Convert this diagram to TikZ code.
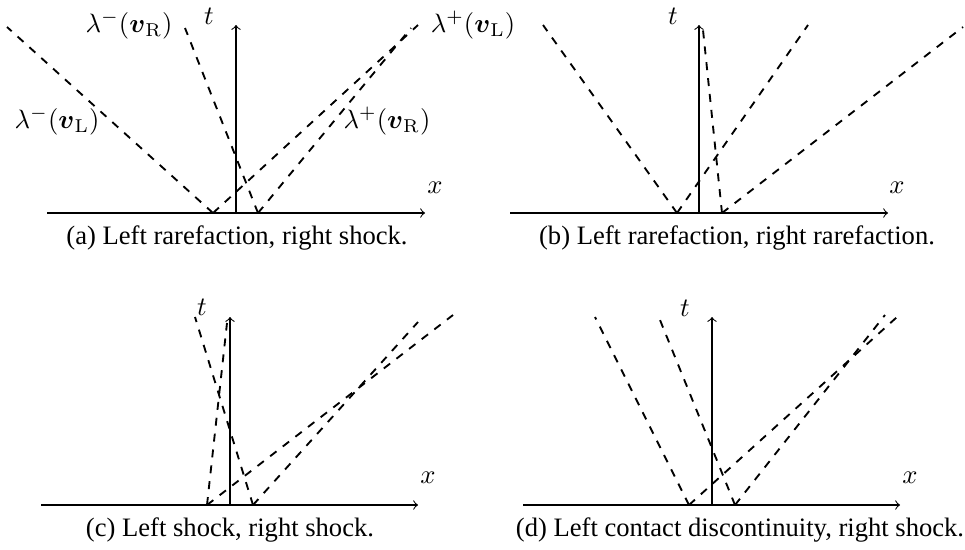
\documentclass[tikz,border=0pt]{standalone}
\usepackage{amsmath}
\usepackage[no-math]{fontspec}
\setmainfont{Liberation Serif}
\begin{document}
\begin{tikzpicture}[x=0.376pt,y=-0.376pt,
  axis/.style={->,line width=0.4pt},
  wave/.style={dashed,line width=0.7pt},
  lab/.style={inner sep=0pt},
  captext/.style={inner sep=0pt}]
\useasboundingbox (0,0) rectangle (965,549);
% ---------- (a) ----------
\coordinate (aXs) at (47,213);  \coordinate (aXe) at (425,213);
\coordinate (aTs) at (236,213); \coordinate (aTe) at (236,25);
\coordinate (aL) at (213,213);  \coordinate (aR) at (258,213);
\coordinate (a1) at (7,27);     \coordinate (a2) at (185,28);
\coordinate (a3) at (418,25);   \coordinate (a4) at (411,28);
\draw[axis] (aXs) -- (aXe);
\draw[axis] (aTs) -- (aTe);
\draw[wave] (aL) -- (a1);
\draw[wave] (aR) -- (a2);
\draw[wave] (aL) -- (a3);
\draw[wave] (aR) -- (a4);
\node[lab] (at) at (209,16) {$t$};
\node[lab] (ax) at (435,188) {$x$};
\node[lab] (amL) at (57,121) {$\lambda^{-}(\boldsymbol{v}_{\mathrm{L}})$};
\node[lab] (amR) at (129,25) {$\lambda^{-}(\boldsymbol{v}_{\mathrm{R}})$};
\node[lab] (apR) at (387,121) {$\lambda^{+}(\boldsymbol{v}_{\mathrm{R}})$};
\node[lab] (apL) at (473,25) {$\lambda^{+}(\boldsymbol{v}_{\mathrm{L}})$};
\node[captext] (acap) at (237,238) {(a) Left rarefaction, right shock.};
% ---------- (b) ----------
\coordinate (bXs) at (510,213); \coordinate (bXe) at (888,213);
\coordinate (bTs) at (699,213); \coordinate (bTe) at (699,25);
\coordinate (bL) at (677,213);  \coordinate (bR) at (722,213);
\coordinate (b1) at (543,25);   \coordinate (b2) at (808,25);
\coordinate (b3) at (703,30);   \coordinate (b4) at (963,27);
\draw[axis] (bXs) -- (bXe);
\draw[axis] (bTs) -- (bTe);
\draw[wave] (bL) -- (b1);
\draw[wave] (bL) -- (b2);
\draw[wave] (bR) -- (b3);
\draw[wave] (bR) -- (b4);
\node[lab] (bt) at (673,16) {$t$};
\node[lab] (bx) at (897,188) {$x$};
\node[captext] (bcap) at (737,238) {(b) Left rarefaction, right rarefaction.};
% ---------- (c) ----------
\coordinate (cXs) at (41,505);  \coordinate (cXe) at (418,505);
\coordinate (cTs) at (230,505); \coordinate (cTe) at (230,317);
\coordinate (cL) at (207,505);  \coordinate (cR) at (253,505);
\coordinate (c1) at (195,317);  \coordinate (c2) at (227,323);
\coordinate (c3) at (453,315);  \coordinate (c4) at (418,322);
\draw[axis] (cXs) -- (cXe);
\draw[axis] (cTs) -- (cTe);
\draw[wave] (cR) -- (c1);
\draw[wave] (cL) -- (c2);
\draw[wave] (cL) -- (c3);
\draw[wave] (cR) -- (c4);
\node[lab] (ct) at (202,307) {$t$};
\node[lab] (cx) at (428,478) {$x$};
\node[captext] (ccap) at (230,530) {(c) Left shock, right shock.};
% ---------- (d) ----------
\coordinate (dXs) at (523,505); \coordinate (dXe) at (900,505);
\coordinate (dTs) at (712,505); \coordinate (dTe) at (712,317);
\coordinate (dL) at (689,505);  \coordinate (dR) at (735,505);
\coordinate (d1) at (595,317);  \coordinate (d2) at (660,320);
\coordinate (d3) at (897,317);  \coordinate (d4) at (885,315);
\draw[axis] (dXs) -- (dXe);
\draw[axis] (dTs) -- (dTe);
\draw[wave] (dL) -- (d1);
\draw[wave] (dR) -- (d2);
\draw[wave] (dL) -- (d3);
\draw[wave] (dR) -- (d4);
\node[lab] (dt) at (685,308) {$t$};
\node[lab] (dx) at (910,478) {$x$};
\node[captext] (dcap) at (740,530) {(d) Left contact discontinuity, right shock.};
\end{tikzpicture}
\end{document}
